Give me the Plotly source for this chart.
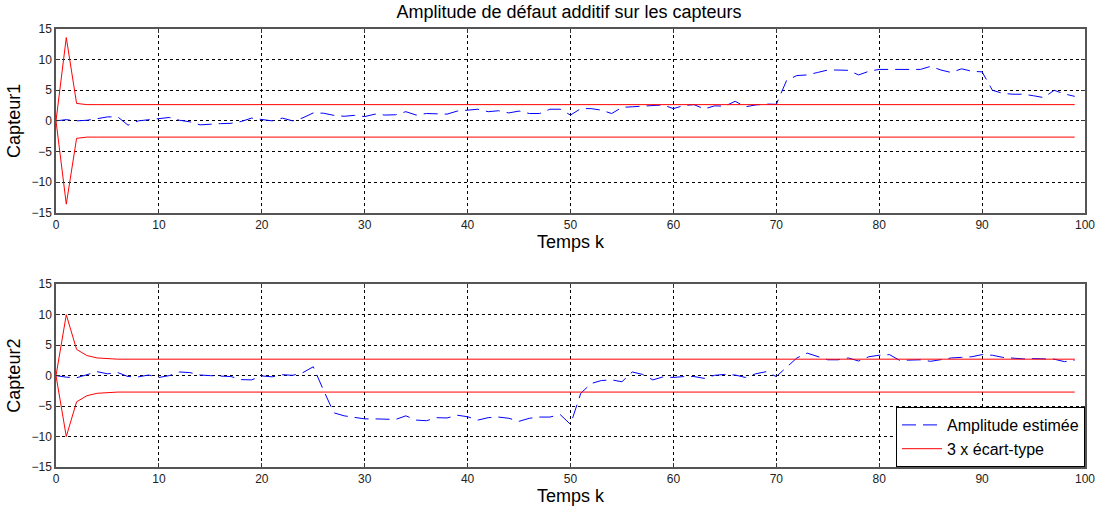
import plotly.graph_objects as go

# Time index
k = list(range(100))

# Estimated additive fault amplitude, sensor 1
amp_capteur1 = [
    0.0, 0.2, 0.0, 0.1, 0.35, 0.65, 0.65, -0.7, 0.0, 0.2,
    0.3, 0.55, 0.1, -0.15, -0.65, -0.5, -0.45, -0.4, -0.1, 0.45,
    0.2, 0.0, 0.45, 0.0, 0.5, 1.3, 1.25, 0.9, 0.75, 0.9,
    0.7, 1.1, 0.95, 1.0, 1.5, 0.95, 1.2, 1.1, 1.1, 1.6,
    1.75, 1.9, 1.5, 1.65, 1.3, 1.6, 1.2, 1.2, 1.9, 1.9,
    0.95, 2.0, 2.0, 1.75, 1.2, 2.2, 2.3, 2.4, 2.4, 2.6,
    2.0, 2.5, 2.65, 1.95, 2.45, 2.4, 3.2, 2.3, 2.6, 2.75,
    2.7, 6.6, 7.4, 7.5, 7.9, 8.3, 8.3, 8.25, 7.5, 8.1,
    8.4, 8.4, 8.35, 8.35, 8.4, 8.9, 8.3, 7.9, 8.5, 8.1,
    8.0, 5.0, 4.5, 4.35, 4.35, 4.1, 3.8, 5.0, 4.4, 4.0,
]

# Estimated additive fault amplitude, sensor 2
amp_capteur2 = [
    0.0, -0.25, -0.35, 0.2, 0.65, 0.3, 0.5, -0.15, -0.2, 0.1,
    -0.3, 0.0, 0.6, 0.5, 0.1, 0.0, -0.1, -0.15, -0.65, -0.7,
    -0.05, -0.2, 0.15, 0.05, 0.5, 1.45, -2.4, -6.1, -6.6, -6.9,
    -7.1, -7.1, -7.2, -7.2, -6.6, -7.3, -7.4, -6.9, -6.95, -6.5,
    -6.75, -7.3, -6.9, -6.8, -7.0, -7.5, -7.0, -6.8, -6.8, -6.4,
    -8.0, -2.9, -1.3, -0.8, -0.7, -1.0, 0.6, 0.2, -0.7, -0.2,
    -0.3, -0.15, -0.15, -0.45, 0.05, 0.2, 0.1, -0.3, 0.3, 0.65,
    -0.15, 1.4, 2.9, 3.7, 3.2, 2.6, 2.6, 2.9, 2.4, 3.1,
    3.35, 3.45, 2.5, 2.5, 2.6, 2.35, 2.6, 2.9, 3.0, 3.1,
    3.45, 3.35, 3.0, 2.9, 2.75, 2.8, 2.8, 2.7, 2.3, 2.55,
]

# 3 x standard deviation bounds
sigma3_capteur1 = [0.0, 13.6, 2.85] + [2.65] * 97
sigma3_capteur2 = [0.0, 10.0, 4.3, 3.3, 2.9, 2.75] + [2.7] * 94

x_ticks = [0, 10, 20, 30, 40, 50, 60, 70, 80, 90, 100]
y_ticks = [-15, -10, -5, 0, 5, 10, 15]

FONT = "Arial, Liberation Sans, sans-serif"
BLUE = "#0000ff"
RED = "#ff0000"

fig = go.Figure()

panels = [
    (amp_capteur1, sigma3_capteur1, "x", "y"),
    (amp_capteur2, sigma3_capteur2, "x2", "y2"),
]
for i, (amp, sig, xa, ya) in enumerate(panels):
    show = i == 1
    fig.add_trace(go.Scatter(
        x=k, y=amp, mode="lines", xaxis=xa, yaxis=ya,
        line=dict(color=BLUE, width=1, dash="14px,7px"),
        name="Amplitude estimée", showlegend=show,
    ))
    fig.add_trace(go.Scatter(
        x=k, y=sig, mode="lines", xaxis=xa, yaxis=ya,
        line=dict(color=RED, width=1),
        name="3 x écart-type", showlegend=show, legendgroup="sig",
    ))
    fig.add_trace(go.Scatter(
        x=k, y=[-v for v in sig], mode="lines", xaxis=xa, yaxis=ya,
        line=dict(color=RED, width=1),
        name="3 x écart-type", showlegend=False, legendgroup="sig",
    ))

xaxis_common = dict(
    range=[0, 100], tickvals=x_ticks, ticks="inside", ticklen=4,
    tickcolor="#333333", showline=True, linecolor="#555555", linewidth=1.5,
    mirror="allticks", showgrid=True, gridcolor="#000000", gridwidth=1,
    griddash="dot", zeroline=False,
    tickfont=dict(family=FONT, size=12, color="#222222"),
    title=dict(text="Temps k", font=dict(family=FONT, size=18, color="#000000"),
               standoff=2),
)
yaxis_common = dict(
    range=[-15, 15], tickvals=y_ticks, ticks="inside", ticklen=4,
    tickcolor="#333333", showline=True, linecolor="#555555", linewidth=1.5,
    mirror="allticks", showgrid=True, gridcolor="#000000", gridwidth=1,
    griddash="dot", zeroline=False,
    tickfont=dict(family=FONT, size=12, color="#222222"),
)

fig.update_layout(
    width=1107, height=513,
    paper_bgcolor="white", plot_bgcolor="white",
    margin=dict(l=56, r=19, t=29, b=43),
    title=dict(text="Amplitude de défaut additif sur les capteurs",
               x=0.514, xanchor="center", y=0.99, yanchor="top",
               font=dict(family=FONT, size=18, color="#000000")),
    xaxis=dict(**xaxis_common, domain=[0, 1], anchor="y"),
    yaxis=dict(**yaxis_common, domain=[0.5805, 1.0], anchor="x",
               title=dict(text="Capteur1",
                          font=dict(family=FONT, size=18, color="#000000"),
                          standoff=6)),
    xaxis2=dict(**xaxis_common, domain=[0, 1], anchor="y2"),
    yaxis2=dict(**yaxis_common, domain=[0.0, 0.4172], anchor="x2",
                title=dict(text="Capteur2",
                           font=dict(family=FONT, size=18, color="#000000"),
                           standoff=6)),
    legend=dict(x=1, y=0, xanchor="right", yanchor="bottom",
                bgcolor="white", bordercolor="#000000", borderwidth=1,
                font=dict(family=FONT, size=16, color="#000000"),
                tracegroupgap=0, itemwidth=40),
    showlegend=True,
)

fig.write_html("out.html")
